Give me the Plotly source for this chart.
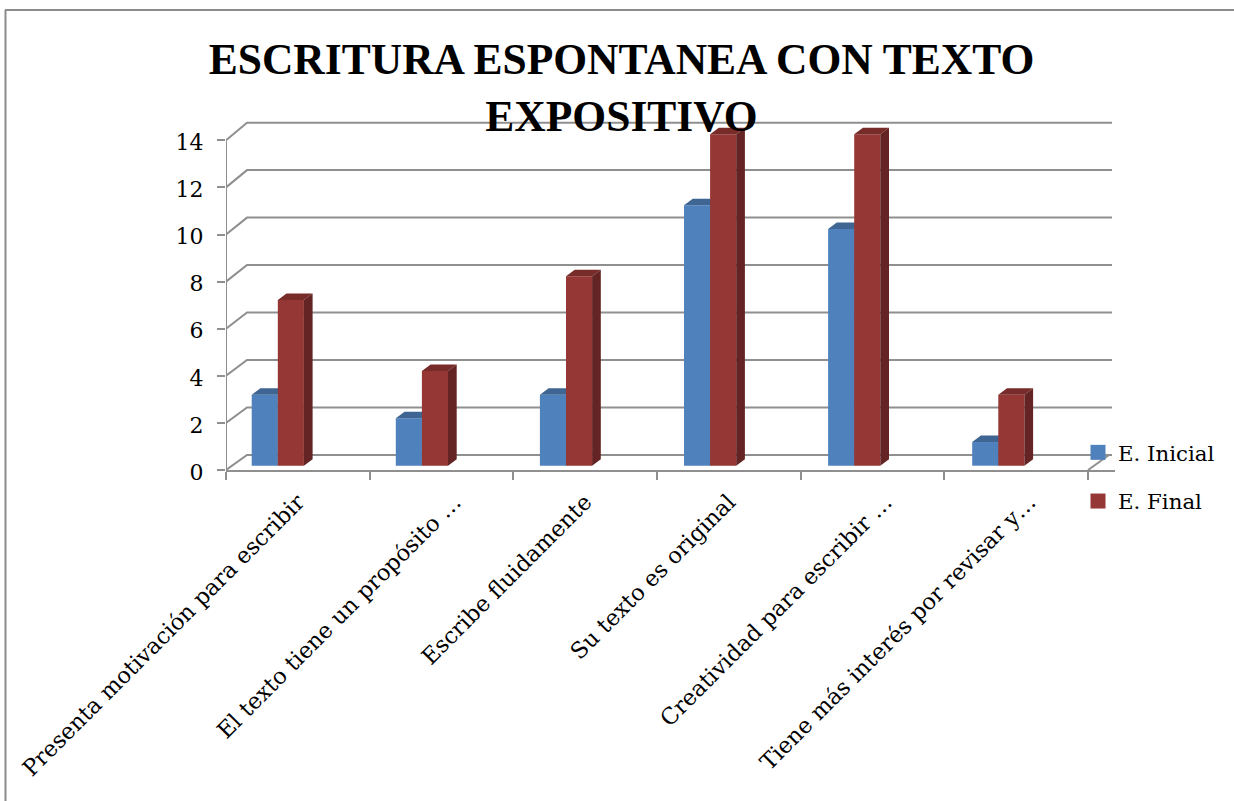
import plotly.graph_objects as go

categories = ["Presenta motivación para escribir", "El texto tiene un propósito …", "Escribe fluidamente",
              "Su texto es original", "Creatividad para escribir …", "Tiene más interés por revisar y…"]
inicial = [3, 2, 3, 11, 10, 1]
final = [7, 4, 8, 14, 14, 3]
y_ticks = [0, 2, 4, 6, 8, 10, 12, 14]
title_text = "ESCRITURA ESPONTANEA CON TEXTO<br>EXPOSITIVO"

W, H = 1234, 801
L, R, T, B = 226, 1115, 118, 470      # plot rectangle in page pixels
CAT_PX = 143.67
BAR_PITCH = 144.1 / CAT_PX
FONT = "DejaVu Serif"
GRID = "#8f8f8f"
BLUE, BLUE_TOP, BLUE_SIDE = "#4f81bd", "#3f6592", "#385d8a"
RED, RED_TOP, RED_SIDE = "#953735", "#772c2a", "#632423"

FRONT_SCALE = 23.55
BAR_BASE, BAR_SCALE = 465.7, 23.67
BACK_BASE, BACK_SCALE = 455.0, 23.74
BACK_DX = 21 / CAT_PX
GRID_END = 886 / CAT_PX
BAR_W = 26.1 / CAT_PX
BAR_OFF = 25.7 / CAT_PX
DEPTH_X = 8.7 / CAT_PX
DEPTH_Y = 6.5 / BAR_SCALE
ELLIPSIS_NUDGE = 13 / CAT_PX


def back(v):
    return (B - (BACK_BASE - BACK_SCALE * v)) / FRONT_SCALE


def faces(values, start):
    top_x, top_y, side_x, side_y = [], [], [], []
    for i, v in enumerate(values):
        a = i * BAR_PITCH + start
        b = a + BAR_W
        top_x += [a, b, b + DEPTH_X, a + DEPTH_X, a, None]
        top_y += [v, v, v + DEPTH_Y, v + DEPTH_Y, v, None]
        side_x += [b, b + DEPTH_X, b + DEPTH_X, b, b, None]
        side_y += [0, DEPTH_Y, v + DEPTH_Y, v, 0, None]
    return top_x, top_y, side_x, side_y


fig = go.Figure()

# wall and floor lines, plus the vertical value axis up to the last tick
gx, gy = [0, 0, None], [0, max(y_ticks), None]
for v in y_ticks:
    gx += [0, BACK_DX, GRID_END, None]
    gy += [v, back(v), back(v), None]
gx += [6, 6 + BACK_DX]
gy += [0, back(0)]
fig.add_trace(go.Scatter(x=gx, y=gy, mode="lines", line=dict(color=GRID, width=2),
                         hoverinfo="skip", showlegend=False))


def series(name, values, start, color, top, side, yaxis):
    t_x, t_y, s_x, s_y = faces(values, start)
    fig.add_trace(go.Bar(x=[i * BAR_PITCH + start for i in range(len(values))], y=values, name=name,
                         width=BAR_W, offset=0, marker=dict(color=color, line_width=0),
                         customdata=categories, hovertemplate="%{customdata}: %{y}<extra>" + name + "</extra>",
                         yaxis=yaxis, showlegend=False))
    for fx, fy, c in ((t_x, t_y, top), (s_x, s_y, side)):
        fig.add_trace(go.Scatter(x=fx, y=fy, mode="lines", fill="toself", fillcolor=c,
                                 line=dict(width=0, color=c), hoverinfo="skip",
                                 yaxis=yaxis, showlegend=False))
    fig.add_trace(go.Scatter(x=[None], y=[None], name=name, mode="markers", legendgroup=name,
                             marker=dict(symbol="square", size=15, color=color), yaxis=yaxis))


series("E. Inicial", inicial, BAR_OFF, BLUE, BLUE_TOP, BLUE_SIDE, "y2")
series("E. Final", final, BAR_OFF + BAR_W, RED, RED_TOP, RED_SIDE, "y3")

bar_range = [-(B - BAR_BASE) / BAR_SCALE, (BAR_BASE - T) / BAR_SCALE]
label_positions = [i + 0.5 + (ELLIPSIS_NUDGE if c.endswith("…") else 0) for i, c in enumerate(categories)]

fig.update_layout(
    width=W, height=H, autosize=False,
    margin=dict(l=L, r=W - R, t=T, b=H - B, pad=0),
    paper_bgcolor="white", plot_bgcolor="rgba(0,0,0,0)",
    barmode="overlay",
    font=dict(family=FONT, color="black", size=20),
    title=dict(text=title_text, x=621.5 / W, xanchor="center", y=1 - 74 / H, yanchor="bottom",
               font=dict(family="Liberation Serif", size=43.5, color="black", weight="bold")),
    xaxis=dict(range=[0, (R - L) / CAT_PX], showgrid=False, zeroline=False, showline=True,
               linecolor=GRID, linewidth=2, tickmode="array",
               tickvals=label_positions, ticktext=categories, tickangle=-45,
               ticks="", tickfont=dict(size=22.5), automargin=False, ticklabelstandoff=8,
               minor=dict(ticks="outside", tick0=0, dtick=1, ticklen=8, tickcolor=GRID, tickwidth=2, showgrid=False)),
    yaxis=dict(range=[0, (B - T) / FRONT_SCALE], tickmode="array", tickvals=y_ticks, showgrid=False,
               zeroline=False, showline=False, ticks="outside", ticklen=8, tickcolor=GRID, tickwidth=2,
               tickfont=dict(size=22), automargin=False, ticklabelstandoff=9, ticklabelshift=2),
    yaxis2=dict(range=bar_range, overlaying="y", visible=False),
    yaxis3=dict(range=bar_range, overlaying="y", visible=False),
    legend=dict(x=(1078 - L) / (R - L), xanchor="left", y=(B - 432) / (B - T), yanchor="top",
                bgcolor="rgba(0,0,0,0)", font=dict(size=21.3), itemwidth=30, tracegroupgap=18,
                traceorder="grouped", itemclick=False, itemdoubleclick=False),
    shapes=[
        dict(type="line", xref="paper", yref="paper", layer="below",
             x0=(5.5 - L) / (R - L), x1=(5.5 - L) / (R - L), y0=(B - 10) / (B - T), y1=(B - H) / (B - T),
             line=dict(color="#8c8c8c", width=2)),
        dict(type="line", xref="paper", yref="paper", layer="below",
             x0=(5 - L) / (R - L), x1=(W - L) / (R - L), y0=(B - 10) / (B - T), y1=(B - 10) / (B - T),
             line=dict(color="#8c8c8c", width=2)),
    ],
)

fig.write_html("out.html", config=dict(displayModeBar=False),
               post_script="document.body.style.margin='0';document.documentElement.style.overflow='hidden';")
